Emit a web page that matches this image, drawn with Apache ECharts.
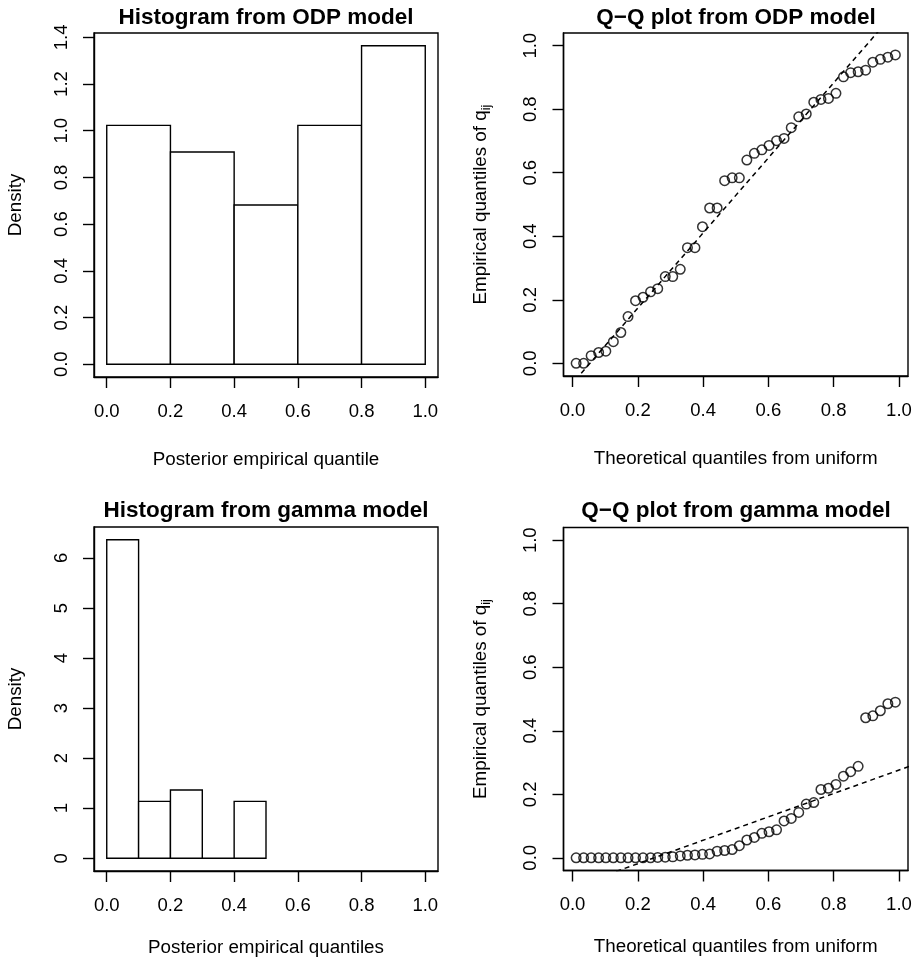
<!DOCTYPE html>
<html>
<head>
<meta charset="utf-8">
<script src="https://cdn.jsdelivr.net/npm/echarts@6/dist/echarts.min.js"></script>
<style>
  html, body { margin: 0; padding: 0; background: #fff; }
  #chart { width: 916px; height: 964px; }
</style>
</head>
<body>
<div id="chart"></div>
<script>
// ---- Histogram bins: edges and densities ----
const odpBinEdges = [0, 0.2, 0.4, 0.6, 0.8, 1.0];
const odpDensity = [1.023, 0.909, 0.682, 1.023, 1.364];
const gammaBinEdges = [0, 0.1, 0.2, 0.3, 0.4, 0.5];
const gammaDensity = [6.364, 1.136, 1.364, 0, 1.136];

// ---- Q-Q plots: theoretical uniform quantiles vs empirical quantiles ----
const uniformQuantiles = [
  0.011, 0.034, 0.057, 0.080, 0.102, 0.125, 0.148, 0.170, 0.193, 0.216, 0.239,
  0.261, 0.284, 0.307, 0.330, 0.352, 0.375, 0.398, 0.420, 0.443, 0.466, 0.489,
  0.511, 0.534, 0.557, 0.580, 0.602, 0.625, 0.648, 0.670, 0.693, 0.716, 0.739,
  0.761, 0.784, 0.807, 0.830, 0.852, 0.875, 0.898, 0.920, 0.943, 0.966, 0.989
];
const odpQuantiles = [
  0.000, 0.000, 0.024, 0.034, 0.038, 0.068, 0.097, 0.147, 0.197, 0.208, 0.225,
  0.235, 0.273, 0.273, 0.296, 0.364, 0.364, 0.430, 0.489, 0.489, 0.575, 0.584,
  0.584, 0.640, 0.661, 0.672, 0.686, 0.701, 0.708, 0.742, 0.776, 0.785, 0.822,
  0.831, 0.834, 0.850, 0.902, 0.915, 0.918, 0.923, 0.948, 0.957, 0.964, 0.971
];
const gammaQuantiles = [
  0.000, 0.000, 0.000, 0.000, 0.000, 0.000, 0.000, 0.000, 0.000, 0.000, 0.000,
  0.001, 0.002, 0.003, 0.006, 0.008, 0.009, 0.011, 0.012, 0.021, 0.023, 0.026,
  0.038, 0.056, 0.064, 0.077, 0.082, 0.088, 0.116, 0.124, 0.143, 0.169, 0.174,
  0.215, 0.219, 0.231, 0.257, 0.271, 0.288, 0.441, 0.447, 0.463, 0.485, 0.490
];
// Reference lines through the quartiles (end points beyond the plot, clipped)
const odpRefLine = [[-0.1, -0.181], [1.1, 1.238]];
const gammaRefLine = [[-0.1, -0.129], [1.1, 0.313]];

// ---- Tick values ----
const unitTicks = [0, 0.2, 0.4, 0.6, 0.8, 1.0];
const odpDensityTicks = [0, 0.2, 0.4, 0.6, 0.8, 1.0, 1.2, 1.4];
const gammaDensityTicks = [0, 1, 2, 3, 4, 5, 6];

const FONT = '"Liberation Sans", Arial, Helvetica, sans-serif';
const TICK_FS = 18.5;
const LAB_FS = 18.8;
const LW = 1.4;

function bins(edges, dens) {
  return dens.map((d, i) => [edges[i], edges[i + 1], d]);
}

function xAxis(gridIndex, min, max, name, nameGap) {
  return {
    type: 'value', gridIndex, min, max,
    axisLine: { show: true, onZero: false, lineStyle: { color: '#000', width: LW } },
    axisTick: { show: true, inside: false, length: 11, customValues: unitTicks,
                lineStyle: { color: '#000', width: LW } },
    axisLabel: { customValues: unitTicks, formatter: v => v.toFixed(1),
                 color: '#000', fontSize: TICK_FS, fontFamily: FONT, margin: 25 },
    splitLine: { show: false },
    name, nameLocation: 'middle', nameGap,
    nameTextStyle: { color: '#000', fontSize: LAB_FS, fontFamily: FONT }
  };
}

function yAxis(gridIndex, min, max, ticks, fmt, name, nameGap, rich) {
  const ax = {
    type: 'value', gridIndex, min, max,
    axisLine: { show: true, onZero: false, lineStyle: { color: '#000', width: LW } },
    axisTick: { show: true, inside: false, length: 11, customValues: ticks,
                lineStyle: { color: '#000', width: LW } },
    axisLabel: { customValues: ticks, formatter: fmt, rotate: 90,
                 color: '#000', fontSize: TICK_FS, fontFamily: FONT, margin: 23 },
    splitLine: { show: false },
    name, nameLocation: 'middle', nameGap,
    nameTextStyle: { color: '#000', fontSize: LAB_FS, fontFamily: FONT }
  };
  if (rich) ax.nameTextStyle.rich = rich;
  return ax;
}

function histSeries(idx, data) {
  return {
    type: 'custom', xAxisIndex: idx, yAxisIndex: idx, silent: true,
    encode: { x: [0, 1], y: 2 },
    data,
    renderItem(params, api) {
      const p0 = api.coord([api.value(0), 0]);
      const p1 = api.coord([api.value(1), api.value(2)]);
      return {
        type: 'rect',
        shape: { x: p0[0], y: p1[1], width: p1[0] - p0[0], height: p0[1] - p1[1] },
        style: { fill: '#fff', stroke: '#000', lineWidth: LW }
      };
    }
  };
}

function qqPoints(idx, ys) {
  return {
    type: 'scatter', xAxisIndex: idx, yAxisIndex: idx, silent: true,
    symbol: 'circle', symbolSize: 9.5,
    itemStyle: { color: 'rgba(0,0,0,0)', borderColor: '#000', borderWidth: 1.5 },
    data: uniformQuantiles.map((x, i) => [x, ys[i]])
  };
}

function refLine(idx, pts) {
  return {
    type: 'line', xAxisIndex: idx, yAxisIndex: idx, silent: true, clip: true,
    symbol: 'none', data: pts,
    lineStyle: { color: '#000', width: 1.5, type: [5, 4] }
  };
}

const subRich = {
  m: { fontSize: LAB_FS, fontFamily: FONT, color: '#000', lineHeight: 24 },
  s: { fontSize: 13, fontFamily: FONT, color: '#000', verticalAlign: 'bottom' }
};
const qqYName = '{m|Empirical quantiles of q}{s|ij}';

const titleStyle = { color: '#000', fontSize: 22.5, fontWeight: 'bold', fontFamily: FONT };

const option = {
  animation: false,
  backgroundColor: '#fff',
  title: [
    { text: 'Histogram from ODP model', left: 266, top: 6, textAlign: 'center', padding: 0, textStyle: titleStyle },
    { text: 'Q\u2212Q plot from ODP model', left: 736, top: 6, textAlign: 'center', padding: 0, textStyle: titleStyle },
    { text: 'Histogram from gamma model', left: 266, top: 499, textAlign: 'center', padding: 0, textStyle: titleStyle },
    { text: 'Q\u2212Q plot from gamma model', left: 736, top: 499, textAlign: 'center', padding: 0, textStyle: titleStyle }
  ],
  grid: [
    { left: 94, top: 33, width: 344, height: 344 },
    { left: 563.5, top: 33, width: 344.5, height: 343 },
    { left: 94, top: 527, width: 344, height: 344 },
    { left: 563.5, top: 527.5, width: 344.5, height: 343 }
  ].map(g => Object.assign(g, { show: true, borderColor: '#000', borderWidth: LW, backgroundColor: 'transparent' })),
  xAxis: [
    xAxis(0, -0.04, 1.04, 'Posterior empirical quantile', 73),
    xAxis(1, -0.0277, 1.0277, 'Theoretical quantiles from uniform', 73),
    xAxis(2, -0.04, 1.04, 'Posterior empirical quantiles', 67),
    xAxis(3, -0.0277, 1.0277, 'Theoretical quantiles from uniform', 67)
  ],
  yAxis: [
    yAxis(0, -0.0546, 1.4186, odpDensityTicks, v => v.toFixed(1), 'Density', 69),
    yAxis(1, -0.04, 1.04, unitTicks, v => v.toFixed(1), qqYName, 71, subRich),
    yAxis(2, -0.2546, 6.618, gammaDensityTicks, v => String(v), 'Density', 69),
    yAxis(3, -0.04, 1.04, unitTicks, v => v.toFixed(1), qqYName, 71, subRich)
  ],
  series: [
    histSeries(0, bins(odpBinEdges, odpDensity)),
    refLine(1, odpRefLine),
    qqPoints(1, odpQuantiles),
    histSeries(2, bins(gammaBinEdges, gammaDensity)),
    refLine(3, gammaRefLine),
    qqPoints(3, gammaQuantiles)
  ]
};

const chart = echarts.init(document.getElementById('chart'), null, { renderer: 'canvas' });
chart.setOption(option);
</script>
</body>
</html>
